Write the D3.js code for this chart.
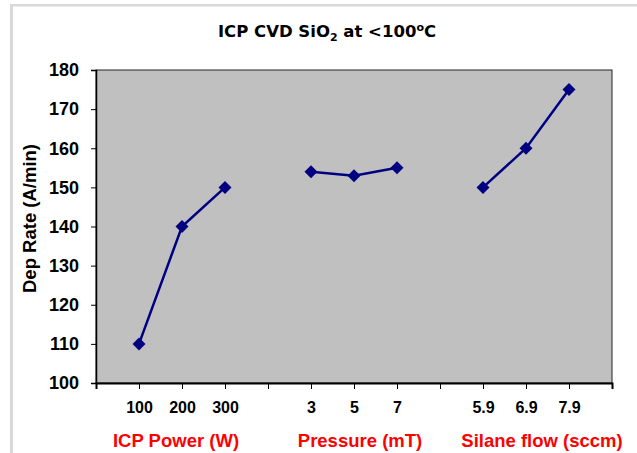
<!DOCTYPE html>
<html>
<head>
<meta charset="utf-8">
<script src="https://cdn.jsdelivr.net/npm/d3@7"></script>
<style>
  body { margin: 0; background: #fff; }
  text { font-family: "Liberation Sans", Arial, sans-serif; font-weight: bold; }
</style>
</head>
<body>
<div id="chart"></div>
<script>
// category slots along the x axis (blank slots separate the three groups)
var xSlots = ["", "100", "200", "300", "", "3", "5", "7", "", "5.9", "6.9", "7.9", ""];
var yTicks = [100, 110, 120, 130, 140, 150, 160, 170, 180];

// deposition rate for each parameter sweep
var icpPower = [110, 140, 150];   // slots 1-3
var pressure = [154, 153, 155];   // slots 5-7
var silaneFlow = [150, 160, 175]; // slots 9-11

var groupNames = ["ICP Power (W)", "Pressure (mT)", "Silane flow (sccm)"];

var width = 637, height = 453;
var plot = {left: 96, right: 612, top: 70, bottom: 383};
var labelFont = "'Liberation Sans', Arial, sans-serif";

var svg = d3.select("#chart")
  .append("svg")
    .attr("width", width)
    .attr("height", height);

// light grey frame lines (top and left)
svg.append("rect").attr("x", 10).attr("y", 4).attr("width", width - 10).attr("height", 2.5).attr("fill", "#d9d9d9");
svg.append("rect").attr("x", 10).attr("y", 4).attr("width", 3).attr("height", height - 4).attr("fill", "#d9d9d9");

var x = d3.scalePoint()
  .domain(d3.range(xSlots.length))
  .range([plot.left, plot.right]);

var y = d3.scaleLinear()
  .domain([100, 180])
  .range([plot.bottom, plot.top]);

// plot background
svg.append("rect")
  .attr("x", plot.left)
  .attr("y", plot.top)
  .attr("width", plot.right - plot.left)
  .attr("height", plot.bottom - plot.top)
  .attr("fill", "#c0c0c0")
  .attr("stroke", "#222")
  .attr("stroke-width", 1);

// Y axis
var yAxis = svg.append("g")
  .attr("transform", "translate(" + plot.left + ",0)")
  .call(d3.axisLeft(y).tickValues(yTicks).tickSize(5).tickPadding(12));
yAxis.select(".domain").attr("stroke", "#000").attr("stroke-width", 1.5);
yAxis.selectAll(".tick line").attr("stroke", "#000");
yAxis.selectAll(".tick text")
  .attr("fill", "#000")
  .style("font-size", "18px")
  .style("font-family", labelFont);

// X axis
var xAxis = svg.append("g")
  .attr("transform", "translate(0," + plot.bottom + ")")
  .call(d3.axisBottom(x).tickSize(6).tickPadding(13).tickFormat(function(i) { return xSlots[i]; }));
xAxis.select(".domain").attr("stroke", "#000").attr("stroke-width", 2);
xAxis.selectAll(".tick line").attr("stroke", "#000");
xAxis.selectAll(".tick text")
  .attr("fill", "#000")
  .style("font-size", "16px")
  .style("font-family", labelFont);

// lines + diamond markers
var series = [
  {slots: [1, 2, 3], values: icpPower},
  {slots: [5, 6, 7], values: pressure},
  {slots: [9, 10, 11], values: silaneFlow}
];

var line = d3.line()
  .x(function(d) { return x(d.slot); })
  .y(function(d) { return y(d.value); });

series.forEach(function(s) {
  var pts = s.values.map(function(v, i) { return {slot: s.slots[i], value: v}; });
  svg.append("path")
    .datum(pts)
    .attr("d", line)
    .attr("fill", "none")
    .attr("stroke", "#000080")
    .attr("stroke-width", 2.5);
  svg.selectAll(null)
    .data(pts)
    .enter()
    .append("path")
      .attr("transform", function(d) { return "translate(" + x(d.slot) + "," + y(d.value) + ")"; })
      .attr("d", "M0,-6.5L6.5,0L0,6.5L-6.5,0Z")
      .attr("fill", "#000080");
});

// title
var title = svg.append("text")
  .attr("x", 327)
  .attr("y", 37)
  .attr("text-anchor", "middle")
  .style("font-family", "'DejaVu Sans', sans-serif")
  .style("font-size", "16.5px")
  .attr("fill", "#000");
title.append("tspan").text("ICP CVD SiO");
title.append("tspan").attr("dy", 4).style("font-size", "11px").text("2");
title.append("tspan").attr("dy", -4).text(" at <100");
title.append("tspan").attr("dy", -6).style("font-size", "11px").text("o");
title.append("tspan").attr("dy", 6).text("C");

// y axis title
svg.append("text")
  .attr("transform", "translate(36," + ((plot.top + plot.bottom) / 2 - 8) + ") rotate(-90)")
  .attr("text-anchor", "middle")
  .style("font-size", "18.5px")
  .style("font-family", labelFont)
  .attr("fill", "#000")
  .text("Dep Rate (A/min)");

// group labels (red)
var groupX = [x(2) - 6, x(6) + 6, x(10) + 16];
svg.selectAll(".group")
  .data(groupNames)
  .enter()
  .append("text")
    .attr("class", "group")
    .attr("x", function(d, i) { return groupX[i]; })
    .attr("y", 447)
    .attr("text-anchor", "middle")
    .style("font-size", "18.5px")
    .style("font-family", labelFont)
    .attr("fill", "#ff0000")
    .text(function(d) { return d; });
</script>
</body>
</html>
